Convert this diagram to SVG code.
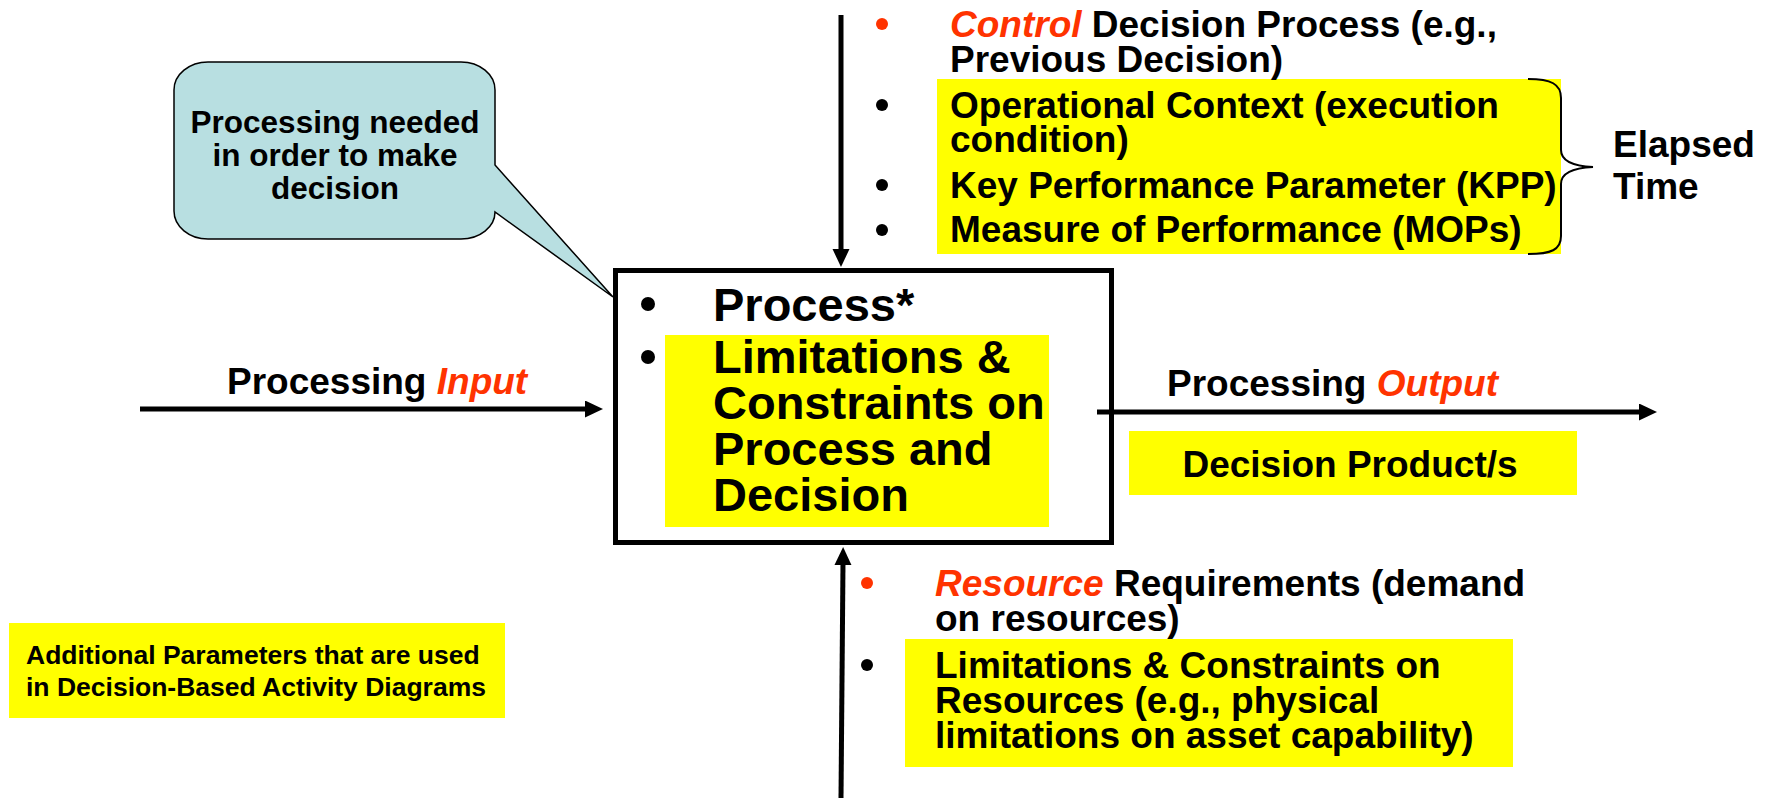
<svg xmlns="http://www.w3.org/2000/svg" width="1771" height="798" viewBox="0 0 1771 798">
  <style>
    text { font-family: "Liberation Sans", Arial, sans-serif; font-weight: bold; fill: #000; }
    .s37 { font-size: 37px; }
    .s47 { font-size: 47px; }
    .red { fill: #FF3300; font-style: italic; }
    .hl { fill: #FFFF00; }
    .line { stroke: #000; stroke-width: 5; fill: none; }
  </style>
  <defs>
    <marker id="arrow" markerUnits="userSpaceOnUse" markerWidth="19" markerHeight="18" refX="3" refY="8.5" orient="auto">
      <path d="M0,0 L18,8.5 L0,17 Z" fill="#000"/>
    </marker>
  </defs>
  <rect width="1771" height="798" fill="#fff"/>

  <g id="callout">
    <path d="M208,62 H461 A34,28 0 0 1 495,90 V165 L613,297 L495,212 A34,27 0 0 1 461,239 H208 A34,28 0 0 1 174,211 V90 A34,28 0 0 1 208,62 Z" fill="#B8DFE1" stroke="#000" stroke-width="1.5"/>
    <text x="335" y="133" font-size="31.5" text-anchor="middle">Processing needed</text>
    <text x="335" y="166" font-size="31.5" text-anchor="middle">in order to make</text>
    <text x="335" y="199" font-size="31.5" text-anchor="middle">decision</text>
  </g>

  <g id="process-box">
    <rect x="615.5" y="270.5" width="496" height="272" fill="#fff" stroke="#000" stroke-width="5"/>
    <rect class="hl" x="665" y="335" width="384" height="192"/>
    <circle cx="648" cy="304" r="7"/>
    <circle cx="648" cy="357" r="7"/>
    <text class="s47" x="713" y="321">Process*</text>
    <text class="s47" x="713" y="373">Limitations &amp;</text>
    <text class="s47" x="713" y="419">Constraints on</text>
    <text class="s47" x="713" y="465">Process and</text>
    <text class="s47" x="713" y="511">Decision</text>
  </g>

  <g id="input-label">
    <text class="s37" x="227" y="394">Processing <tspan class="red">Input</tspan></text>
  </g>

  <g id="output-label">
    <text class="s37" x="1167" y="396">Processing <tspan class="red">Output</tspan></text>
  </g>

  <g id="decision-product">
    <rect class="hl" x="1129" y="431" width="448" height="64"/>
    <text class="s37" x="1350" y="477" text-anchor="middle">Decision Product/s</text>
  </g>

  <g id="control-list">
    <rect class="hl" x="937" y="79" width="624" height="175"/>
    <circle cx="882" cy="24" r="6" fill="#FF3300"/>
    <circle cx="882" cy="105" r="6"/>
    <circle cx="882" cy="185" r="6"/>
    <circle cx="882" cy="230" r="6"/>
    <text class="s37" x="950" y="37"><tspan class="red">Control</tspan> Decision Process (e.g.,</text>
    <text class="s37" x="950" y="72">Previous Decision)</text>
    <text class="s37" x="950" y="118">Operational Context (execution</text>
    <text class="s37" x="950" y="152">condition)</text>
    <text class="s37" x="950" y="198">Key Performance Parameter (KPP)</text>
    <text class="s37" x="950" y="242">Measure of Performance (MOPs)</text>
  </g>

  <g id="elapsed-time">
    <path d="M1528,79 C1551,79 1561,84 1561,98 V150 C1561,160 1571,166 1593,167 C1571,168 1561,174 1561,184 V236 C1561,250 1551,254 1528,254" fill="none" stroke="#000" stroke-width="2"/>
    <text class="s37" x="1613" y="157">Elapsed</text>
    <text class="s37" x="1613" y="199">Time</text>
  </g>

  <g id="resource-list">
    <rect class="hl" x="905" y="639" width="608" height="128"/>
    <circle cx="867" cy="583" r="6" fill="#FF3300"/>
    <circle cx="867" cy="665" r="6"/>
    <text class="s37" x="935" y="596"><tspan class="red">Resource</tspan> Requirements (demand</text>
    <text class="s37" x="935" y="631">on resources)</text>
    <text class="s37" x="935" y="678">Limitations &amp; Constraints on</text>
    <text class="s37" x="935" y="713">Resources (e.g., physical</text>
    <text class="s37" x="935" y="748">limitations on asset capability)</text>
  </g>

  <g id="note">
    <rect class="hl" x="9" y="623" width="496" height="95"/>
    <text x="26" y="664" font-size="26.5">Additional Parameters that are used</text>
    <text x="26" y="696" font-size="26.5">in Decision-Based Activity Diagrams</text>
  </g>

  <g id="connectors">
    <line class="line" x1="841" y1="15" x2="841" y2="252" marker-end="url(#arrow)"/>
    <line class="line" x1="841" y1="798" x2="843" y2="562" marker-end="url(#arrow)"/>
    <line class="line" x1="140" y1="409" x2="588" y2="409" marker-end="url(#arrow)"/>
    <line class="line" x1="1097" y1="412" x2="1642" y2="412" marker-end="url(#arrow)"/>
  </g>
</svg>
